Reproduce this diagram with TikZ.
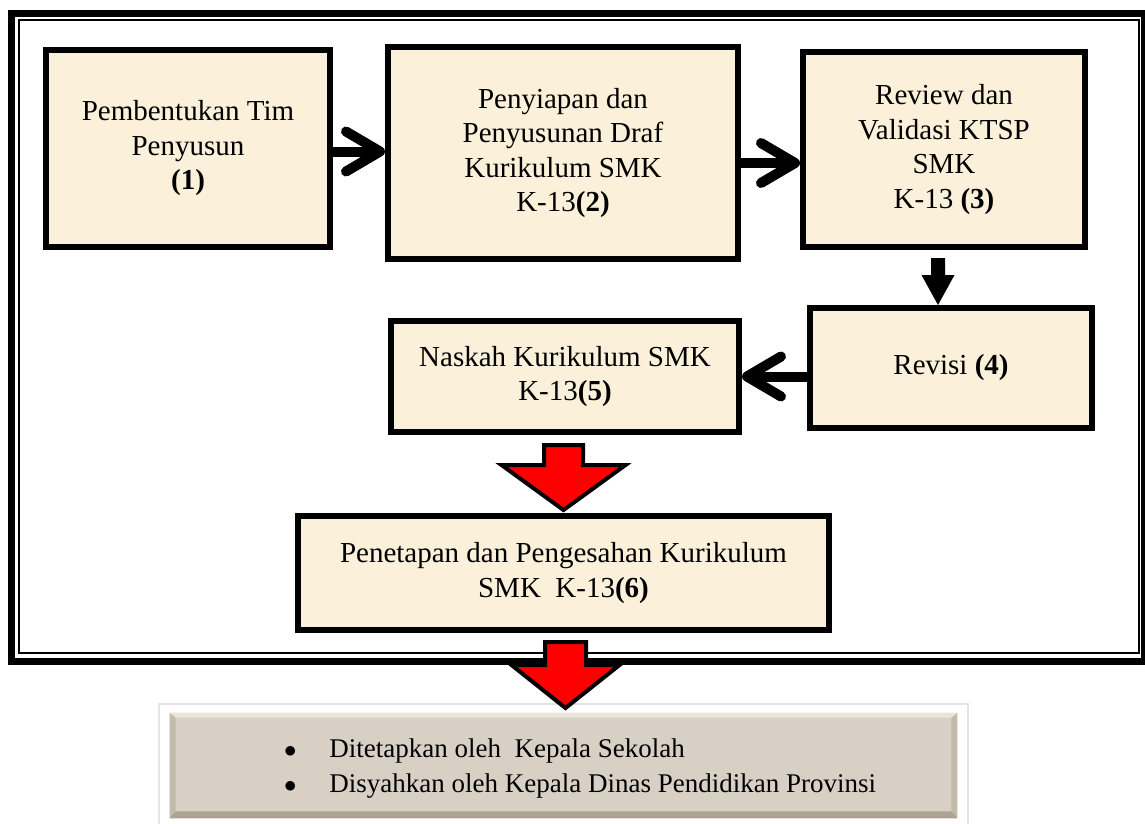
\documentclass[tikz,border=0pt]{standalone}
\usepackage{fontspec}
\setmainfont{Liberation Serif}
\usepackage{xcolor}
\usepackage{tikz}
\usetikzlibrary{arrows.meta,calc,positioning}

\definecolor{papyrus}{HTML}{FBF0D9}
\definecolor{batu}{HTML}{D8D0C4}
\definecolor{batugelap}{HTML}{ADA393}
\definecolor{batusisi}{HTML}{C3BAAC}
\definecolor{batuterang}{HTML}{E9E4DB}

\tikzset{pics/panah/.style n args={5}{code={
  \path[pic actions] (-#1,#3) -- (#1,#3) -- (#1,#4) -- (#2,#4) -- (0,#5) -- (-#2,#4) -- (-#1,#4) -- cycle;
}}}

\begin{document}
\begin{tikzpicture}[x=1pt, y=-1pt, thick]
        \tikzstyle{tahap} = [rectangle, draw, line width=6pt, fill=papyrus, align=center, inner sep=0pt, font=\fontsize{29}{34.5}\selectfont]
        \tikzstyle{line} = [draw, line width=10pt, -{Straight Barb[length=34pt,width=40pt,round]}]
        \tikzstyle{blokmerah} = [draw, line width=4pt, fill=red, miter limit=10]
        \tikzstyle{blokhitam} = [fill=black]

        \fill[white] (0,0) rectangle (1145,823);
        \useasboundingbox (0,0) rectangle (1145,823);

        % bingkai luar
        \draw[line width=7pt] (11.5,13) rectangle (1144.5,661.5);
        \draw[line width=2pt] (18.5,20) rectangle (1138.5,653);

        \node [tahap, minimum width=284, minimum height=197] (tim) at (188,148.5) {Pembentukan Tim\\Penyusun\\\textbf{(1)}};
        \node [tahap, minimum width=350, minimum height=212] (draf) at (563,153) {Penyiapan dan\\Penyusunan Draf\\Kurikulum SMK\\K-13\textbf{(2)}};
        \node [tahap, minimum width=282, minimum height=195] (review) at (944,149.5) {Review dan\\Validasi KTSP\\SMK\\K-13 \textbf{(3)}};
        \node [tahap, minimum width=282, minimum height=120] (revisi) at (951,368) {Revisi \textbf{(4)}};
        \node [tahap, minimum width=348, minimum height=111] (naskah) at (565,376.5) {Naskah Kurikulum SMK\\K-13\textbf{(5)}};
        \node [tahap, minimum width=531, minimum height=114] (tetap) at (563.5,573) {Penetapan dan Pengesahan Kurikulum\\SMK\ \ K-13\textbf{(6)}};

        \path [line] ([yshift=-3pt]tim.east) -- ([yshift=-3pt]tim.east -| draf.west);
        \path [line] ([yshift=-10pt]draf.east) -- ([yshift=-10pt]draf.east -| review.west);
        \path [line] (revisi.west |- naskah.east) -- (naskah.east);
        \pic [blokhitam] at ([xshift=-6pt]review.south) {panah={7}{16.5}{8}{25}{55}};
        \pic [blokmerah] at ([xshift=-1.5pt]naskah.south) {panah={19.5}{62}{10}{30}{75}};

        % kotak pengesahan
        \draw[gray!20, line width=1.5pt] (159,704) rectangle (968,827);
        \node [fill=batu, minimum width=787, minimum height=105, inner sep=0pt] (sah) at (563.5,765.5) {};
        \fill[batusisi] (sah.north west) -- (sah.south west) -- ([shift={(6pt,6pt)}]sah.south west) -- ([shift={(6pt,-5pt)}]sah.north west) -- cycle;
        \fill[batusisi] (sah.north east) -- (sah.south east) -- ([shift={(-6pt,6pt)}]sah.south east) -- ([shift={(-6pt,-5pt)}]sah.north east) -- cycle;
        \fill[batugelap] (sah.south west) -- (sah.south east) -- ([shift={(-6pt,7pt)}]sah.south east) -- ([shift={(6pt,7pt)}]sah.south west) -- cycle;
        \fill[batuterang] (sah.north west) -- (sah.north east) -- ([shift={(-6pt,-5pt)}]sah.north east) -- ([shift={(6pt,-5pt)}]sah.north west) -- cycle;
        \node [anchor=west, inner sep=0pt, font=\fontsize{27}{35}\selectfont] (butir) at ([xshift=114pt,yshift=-2pt]sah.west)
          {\begin{tabular}{@{}l@{\hspace{33pt}}l@{}}$\bullet$ & Ditetapkan oleh\ \ Kepala Sekolah\\ $\bullet$ & Disyahkan oleh Kepala Dinas Pendidikan Provinsi\end{tabular}};

        \pic [blokmerah] at ([xshift=2pt]tetap.south) {panah={20.5}{54}{9}{32}{75}};
    \end{tikzpicture}
\end{document}
